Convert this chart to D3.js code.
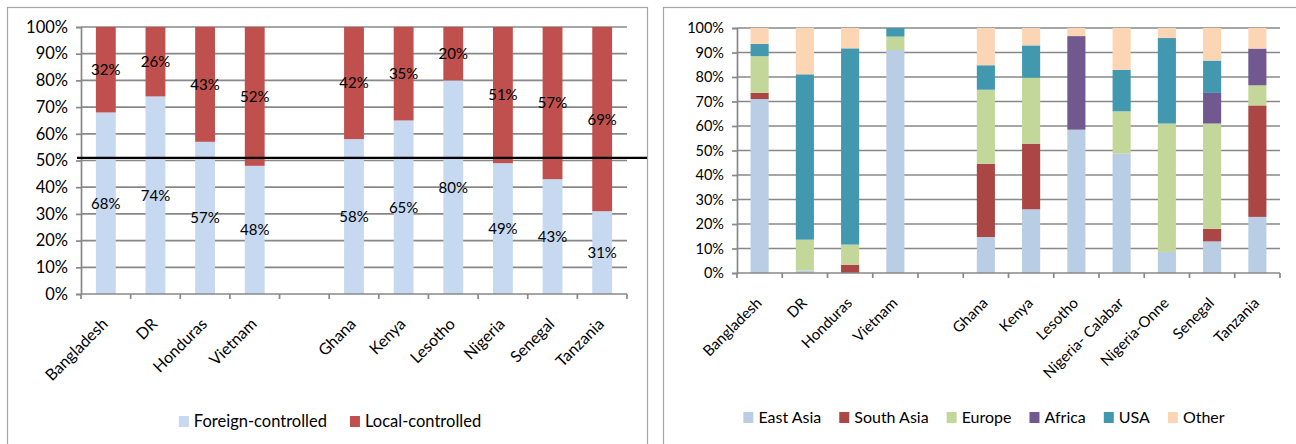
<!DOCTYPE html>
<html>
<head>
<meta charset="utf-8">
<script src="https://cdn.jsdelivr.net/npm/d3@7"></script>
<style>
  html, body { margin: 0; padding: 0; background: #fff; }
  svg { display: block; font-family: Lato, "Open Sans", sans-serif; }
</style>
</head>
<body>
<svg id="chart" width="1296" height="444"></svg>
<script>
// ---------- DATA ----------
const categoriesLeft = ["Bangladesh", "DR", "Honduras", "Vietnam", "", "Ghana", "Kenya", "Lesotho", "Nigeria", "Senegal", "Tanzania"];
const foreignControlled = [68, 74, 57, 48, null, 58, 65, 80, 49, 43, 31];
const localControlled   = [32, 26, 43, 52, null, 42, 35, 20, 51, 57, 69];
const thresholdLine = 51;
const seriesLeft = ["Foreign-controlled", "Local-controlled"];

const categoriesRight = ["Bangladesh", "DR", "Honduras", "Vietnam", "", "Ghana", "Kenya", "Lesotho", "Nigeria- Calabar", "Nigeria-Onne", "Senegal", "Tanzania"];
const eastAsia  = [71,   1,    0,    91,  null, 14.7, 26,   58.5, 48.7, 8.6,  12.9, 22.9];
const southAsia = [2.5,  0,    3.4,  0,   null, 29.9, 26.8, 0,    0,    0,    5.1,  45.5];
const europe    = [15,   12.6, 8.2,  5.5, null, 30.2, 26.9, 0,    17.3, 52.4, 43,   8.2];
const africa    = [0,    0,    0,    0,   null, 0,    0,    38.2, 0,    0,    12.5, 15];
const usa       = [5,    67.5, 80.1, 3.5, null, 10,   13.2, 0,    16.9, 34.9, 13.2, 0];
const other     = [6.5,  19,   8.3,  0,   null, 15.2, 7.1,  3.3,  17.1, 4.1,  13.3, 8.4];
const seriesRight = ["East Asia", "South Asia", "Europe", "Africa", "USA", "Other"];

const yTicks = [0, 10, 20, 30, 40, 50, 60, 70, 80, 90, 100];

// ---------- STYLE ----------
const colorsLeft = ["#c6d9f1", "#c0504d"];
const colorsRight = ["#b9cde5", "#aa4643", "#c4d79b", "#71588f", "#4198af", "#fcd5b5"];
const gridColor = "#888888";
const borderColor = "#a6a6a6";

const svg = d3.select("#chart");

// chart frames
svg.append("rect").attr("x", 7.5).attr("y", 7.5).attr("width", 640).attr("height", 460)
  .attr("fill", "none").attr("stroke", borderColor).attr("stroke-width", 1.2);
svg.append("rect").attr("x", 663.5).attr("y", 7.5).attr("width", 660).attr("height", 460)
  .attr("fill", "none").attr("stroke", borderColor).attr("stroke-width", 1.2);

function keyOf(cats) { return cats.map((c, i) => c === "" ? "blank" + i : c); }

function drawPanel(opts) {
  const { cats, series, values, colors, left, right, top, bottom, yFont, xFont, labels, barPad } = opts;
  const keys = keyOf(cats);
  const g = svg.append("g");
  const x = d3.scaleBand().domain(keys).range([left, right]).paddingInner(barPad).paddingOuter(barPad / 2);
  const y = d3.scaleLinear().domain([0, 100]).range([bottom, top]);

  // gridlines
  g.append("g").selectAll("line").data(yTicks.filter(t => t > 0)).join("line")
    .attr("x1", left).attr("x2", right)
    .attr("y1", d => y(d)).attr("y2", d => y(d))
    .attr("stroke", gridColor).attr("stroke-width", 1.7);

  // stacked bars
  const rows = keys.map((k, i) => {
    const r = { key: k };
    series.forEach((s, j) => r[s] = values[j][i] == null ? 0 : values[j][i]);
    return r;
  });
  const stacked = d3.stack().keys(series)(rows);
  stacked.forEach((layer, j) => {
    g.append("g").selectAll("rect").data(layer).join("rect")
      .attr("x", d => x(d.data.key))
      .attr("width", x.bandwidth())
      .attr("y", d => y(d[1]))
      .attr("height", d => Math.max(0, y(d[0]) - y(d[1])))
      .attr("fill", colors[j]);
  });

  // data labels
  if (labels) {
    stacked.forEach((layer, j) => {
      g.append("g").selectAll("text").data(layer.filter((d, i) => values[j][i] != null)).join("text")
        .attr("x", d => x(d.data.key) + x.bandwidth() / 2)
        .attr("y", d => (y(d[0]) + y(d[1])) / 2)
        .attr("dy", "0.36em")
        .attr("text-anchor", "middle")
        .attr("font-size", labels)
        .attr("fill", "#000")
        .text(d => Math.round(d[1] - d[0]) + "%");
    });
  }

  // y axis
  const yAxis = d3.axisLeft(y).tickValues(yTicks).tickFormat(d => d + "%").tickSize(5).tickPadding(8);
  const ya = g.append("g").attr("transform", `translate(${left},0)`).call(yAxis);
  ya.select(".domain").attr("stroke", gridColor).attr("stroke-width", 1.7);
  ya.selectAll(".tick line").attr("stroke", gridColor).attr("stroke-width", 1.7);
  ya.selectAll(".tick text").attr("font-size", yFont).attr("font-family", "Lato, sans-serif").attr("fill", "#000");

  // x axis line + boundary ticks
  g.append("line").attr("x1", left).attr("x2", right).attr("y1", bottom).attr("y2", bottom)
    .attr("stroke", gridColor).attr("stroke-width", 1.7);
  const bounds = d3.range(keys.length + 1).map(i => left + i * x.step());
  g.append("g").selectAll("line").data(bounds).join("line")
    .attr("x1", d => d).attr("x2", d => d).attr("y1", bottom).attr("y2", bottom + 5)
    .attr("stroke", gridColor).attr("stroke-width", 1.7);

  // category labels
  g.append("g").selectAll("text").data(keys.filter((k, i) => cats[i] !== "")).join("text")
    .attr("transform", k => `translate(${x(k) + x.bandwidth() / 2 + 3},${bottom + 31}) rotate(-45)`)
    .attr("text-anchor", "end")
    .attr("font-size", xFont)
    .attr("fill", "#000")
    .text(k => k);

  return { x, y, g };
}

function drawLegend(items, colors, cx, baseline, font, gap) {
  const lg = svg.append("g");
  let xpos = 0;
  items.forEach((name, i) => {
    const it = lg.append("g");
    it.append("rect").attr("x", xpos).attr("y", baseline - 11).attr("width", 10).attr("height", 11)
      .attr("fill", colors[i]);
    const t = it.append("text").attr("x", xpos + 15).attr("y", baseline)
      .attr("font-size", font).attr("fill", "#000").text(name);
    const w = t.node().getComputedTextLength();
    xpos += 15 + w + gap;
  });
  const total = xpos - gap;
  lg.attr("transform", `translate(${cx - total / 2},0)`);
}

// ---------- LEFT PANEL ----------
const L = drawPanel({
  cats: categoriesLeft, series: seriesLeft, values: [foreignControlled, localControlled],
  colors: colorsLeft, left: 81, right: 627, top: 27, bottom: 294,
  yFont: 16.5, xFont: 16, labels: 15, barPad: 0.6
});
// threshold line
L.g.append("line")
  .attr("x1", 77).attr("x2", 647)
  .attr("y1", L.y(thresholdLine)).attr("y2", L.y(thresholdLine))
  .attr("stroke", "#000").attr("stroke-width", 2.4);

drawLegend(seriesLeft, colorsLeft, 330, 427, 16.5, 23);

// ---------- RIGHT PANEL ----------
drawPanel({
  cats: categoriesRight, series: seriesRight,
  values: [eastAsia, southAsia, europe, africa, usa, other],
  colors: colorsRight, left: 737, right: 1280, top: 28, bottom: 273,
  yFont: 14.5, xFont: 15, labels: null, barPad: 0.6
});
drawLegend(seriesRight, colorsRight, 984, 423, 16, 18);
</script>
</body>
</html>
